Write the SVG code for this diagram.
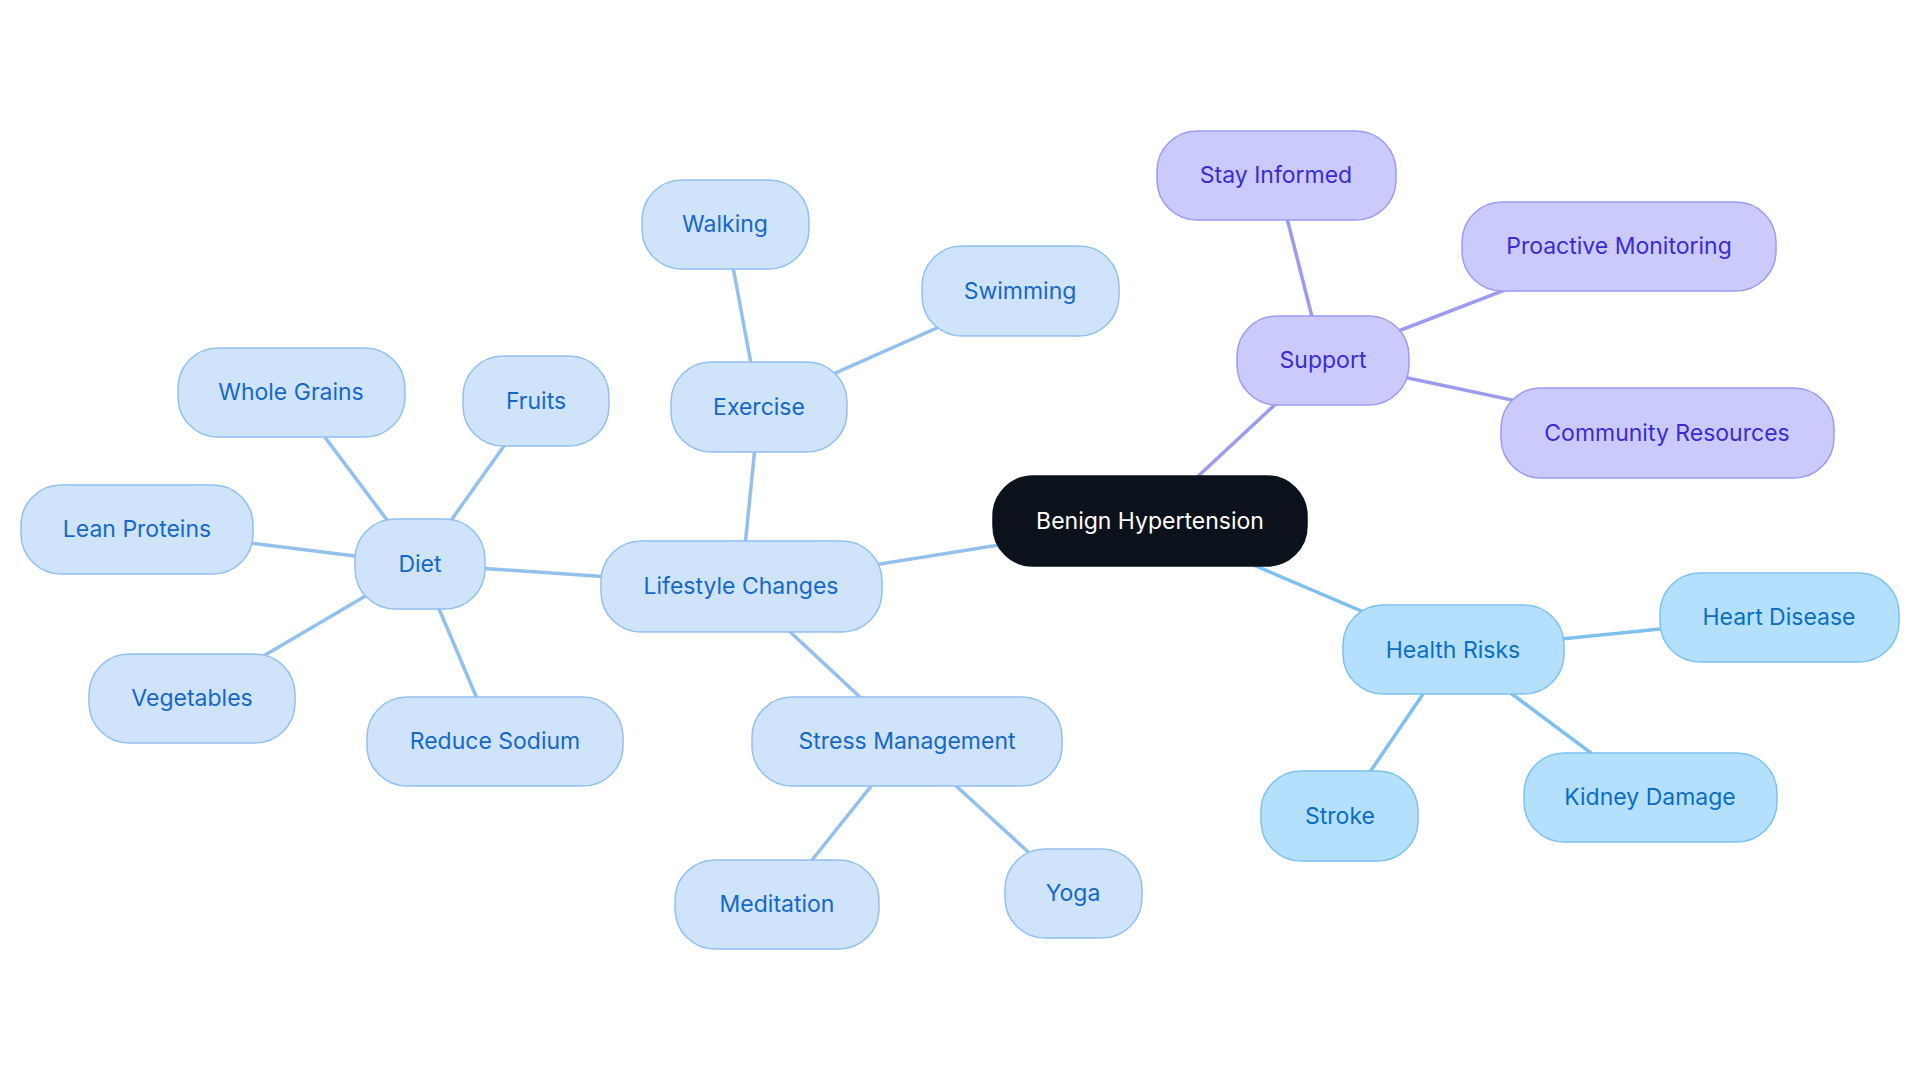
<svg xmlns="http://www.w3.org/2000/svg" width="1920" height="1083" viewBox="0 0 1920 1083">
<style>
rect{rx:40px;ry:40px;stroke-width:1.5}
text{font-family:Inter,"Noto Sans",sans-serif;font-size:23px;text-anchor:middle;dominant-baseline:central}
.b rect{fill:#cfe3fb;stroke:#93c0f0}.b text{fill:#1668c8}
.p rect{fill:#cbcafd;stroke:#9f9bf2}.p text{fill:#3a2cd2}
.s rect{fill:#b4dffd;stroke:#7ec2f0}.s text{fill:#0b6ec4}
.r rect{fill:#0c121c;stroke:#0c121c}.r text{fill:#fff}
#edges line{stroke-width:3.5}
.eb{stroke:#94c0ee}.ep{stroke:#9c9bf0}.es{stroke:#7ec1ef}
</style>
<rect width="1920" height="1083" fill="#fff" style="rx:0"/>
<g id="edges">
<line class="ep" x1="1150" y1="521" x2="1323" y2="360"/>
<line class="ep" x1="1323" y1="360" x2="1276" y2="175"/>
<line class="ep" x1="1323" y1="360" x2="1619" y2="246"/>
<line class="ep" x1="1323" y1="360" x2="1667" y2="433"/>
<line class="es" x1="1150" y1="521" x2="1453" y2="650"/>
<line class="es" x1="1453" y1="650" x2="1779" y2="617"/>
<line class="es" x1="1453" y1="650" x2="1650" y2="797"/>
<line class="es" x1="1453" y1="650" x2="1340" y2="816"/>
<line class="eb" x1="1150" y1="521" x2="741" y2="586"/>
<line class="eb" x1="741" y1="586" x2="759" y2="407"/>
<line class="eb" x1="759" y1="407" x2="725" y2="224"/>
<line class="eb" x1="759" y1="407" x2="1020" y2="291"/>
<line class="eb" x1="741" y1="586" x2="907" y2="741"/>
<line class="eb" x1="907" y1="741" x2="777" y2="904"/>
<line class="eb" x1="907" y1="741" x2="1073" y2="893"/>
<line class="eb" x1="741" y1="586" x2="420" y2="564"/>
<line class="eb" x1="420" y1="564" x2="291" y2="392"/>
<line class="eb" x1="420" y1="564" x2="536" y2="401"/>
<line class="eb" x1="420" y1="564" x2="137" y2="529"/>
<line class="eb" x1="420" y1="564" x2="192" y2="698"/>
<line class="eb" x1="420" y1="564" x2="495" y2="741"/>
</g>
<g id="benign" class="r"><rect x="993" y="476" width="314" height="90"/><text x="1150" y="521">Benign Hypertension</text></g>
<g id="support" class="p"><rect x="1237" y="316" width="172" height="89"/><text x="1323" y="360">Support</text></g>
<g id="stay" class="p"><rect x="1157" y="131" width="239" height="89"/><text x="1276" y="175">Stay Informed</text></g>
<g id="proactive" class="p"><rect x="1462" y="202" width="314" height="89"/><text x="1619" y="246">Proactive Monitoring</text></g>
<g id="community" class="p"><rect x="1501" y="388" width="333" height="90"/><text x="1667" y="433">Community Resources</text></g>
<g id="health" class="s"><rect x="1343" y="605" width="221" height="89"/><text x="1453" y="650">Health Risks</text></g>
<g id="heart" class="s"><rect x="1660" y="573" width="239" height="89"/><text x="1779" y="617">Heart Disease</text></g>
<g id="kidney" class="s"><rect x="1524" y="753" width="253" height="89"/><text x="1650" y="797">Kidney Damage</text></g>
<g id="stroke" class="s"><rect x="1261" y="771" width="157" height="90"/><text x="1340" y="816">Stroke</text></g>
<g id="lifestyle" class="b"><rect x="601" y="541" width="281" height="91"/><text x="741" y="586">Lifestyle Changes</text></g>
<g id="exercise" class="b"><rect x="671" y="362" width="176" height="90"/><text x="759" y="407">Exercise</text></g>
<g id="walking" class="b"><rect x="642" y="180" width="167" height="89"/><text x="725" y="224">Walking</text></g>
<g id="swimming" class="b"><rect x="922" y="246" width="197" height="90"/><text x="1020" y="291">Swimming</text></g>
<g id="stress" class="b"><rect x="752" y="697" width="310" height="89"/><text x="907" y="741">Stress Management</text></g>
<g id="meditation" class="b"><rect x="675" y="860" width="204" height="89"/><text x="777" y="904">Meditation</text></g>
<g id="yoga" class="b"><rect x="1005" y="849" width="137" height="89"/><text x="1073" y="893">Yoga</text></g>
<g id="diet" class="b"><rect x="355" y="519" width="130" height="90"/><text x="420" y="564">Diet</text></g>
<g id="wholegrains" class="b"><rect x="178" y="348" width="227" height="89"/><text x="291" y="392">Whole Grains</text></g>
<g id="fruits" class="b"><rect x="463" y="356" width="146" height="90"/><text x="536" y="401">Fruits</text></g>
<g id="lean" class="b"><rect x="21" y="485" width="232" height="89"/><text x="137" y="529">Lean Proteins</text></g>
<g id="vegetables" class="b"><rect x="89" y="654" width="206" height="89"/><text x="192" y="698">Vegetables</text></g>
<g id="sodium" class="b"><rect x="367" y="697" width="256" height="89"/><text x="495" y="741">Reduce Sodium</text></g>
</svg>
